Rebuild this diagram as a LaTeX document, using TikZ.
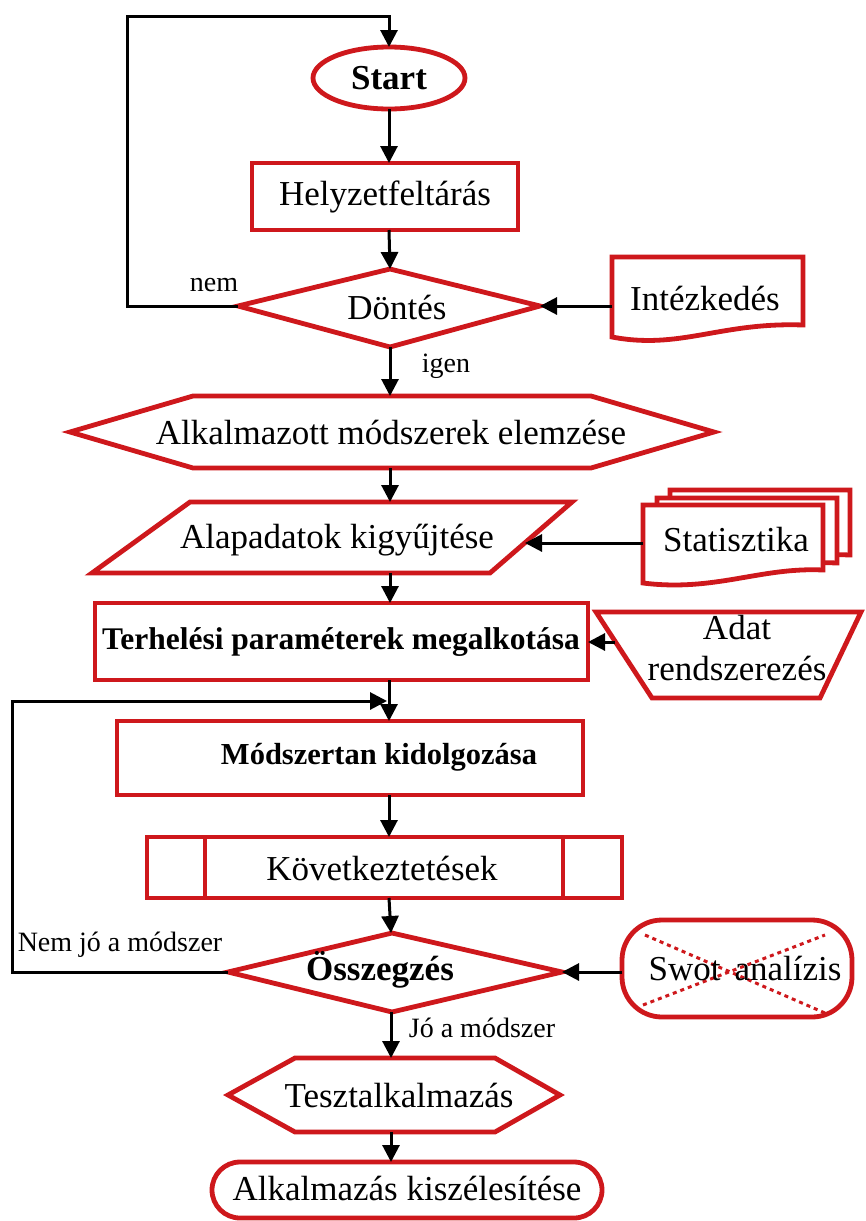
\documentclass[tikz,border=0pt]{standalone}
\usepackage{fontspec}
\setmainfont{Liberation Serif}
\usetikzlibrary{arrows.meta}
\definecolor{boxred}{RGB}{206,24,28}
\begin{document}
\begin{tikzpicture}[x=1pt,y=-1pt,
  box/.style={draw=boxred,line width=4.8pt,line join=miter,fill=white},
  flow/.style={draw=black,line width=3pt,-{Triangle[length=17pt,width=17pt]}},
  txt/.style={font=\fontsize{35}{39}\selectfont,inner sep=0pt},
  btxt/.style={font=\fontsize{35}{39}\selectfont\bfseries,inner sep=0pt},
  mtxt/.style={font=\fontsize{31.5}{35}\selectfont\bfseries,inner sep=0pt},
  stxt/.style={font=\fontsize{30.5}{34}\selectfont\bfseries,inner sep=0pt},
  note/.style={font=\fontsize{28}{32}\selectfont,inner sep=0pt},
  xline/.style={draw=boxred,line width=3pt,dash pattern=on 4pt off 4pt}]
\useasboundingbox[fill=white] (0,0) rectangle (865,1221);

% ---- shapes ----
% Start terminal
\draw[box] (389,78) ellipse [x radius=76, y radius=31];
% Helyzetfeltárás
\draw[box] (252,163) rectangle (518,230);
% Döntés decision
\draw[box] (238,306) -- (390,269) -- (540,306) -- (390,347) -- cycle;
% Intézkedés document
\draw[box] (612,257) -- (803,257) -- (803,325)
  .. controls (720,322) and (680,350) .. (612,337) -- cycle;
% Alkalmazott módszerek elemzése (preparation)
\draw[box] (70,432) -- (193,396) -- (591,396) -- (714,432) -- (591,468) -- (193,468) -- cycle;
% Alapadatok kigyűjtése (data)
\draw[box] (190,502) -- (572,502) -- (490,573) -- (92,573) -- cycle;
% Statisztika multi-document
\foreach \dx/\dy in {27/-15,14/-7,0/0}{
  \draw[box] (643+\dx,505+\dy) -- (823+\dx,505+\dy) -- (823+\dx,570+\dy)
    .. controls (760+\dx,567+\dy) and (715+\dx,592+\dy) .. (643+\dx,583+\dy) -- cycle;
}
% Terhelési paraméterek megalkotása
\draw[box] (95,603) rectangle (588,680);
% Adat rendszerezés (manual operation)
\draw[box] (596,612) -- (861,612) -- (820,698) -- (652,698) -- cycle;
% Módszertan kidolgozása
\draw[box] (117,721) rectangle (583,795);
% Következtetések (predefined process)
\draw[box] (147,837) rectangle (622,898);
\draw[box] (205,837) -- (205,898);
\draw[box] (563,837) -- (563,898);
% Összegzés decision
\draw[box] (228,972) -- (392,933) -- (562,972) -- (392,1012) -- cycle;
% Swot analízis terminal with dotted cross
\draw[box,rounded corners=40pt] (622,920) rectangle (852,1017);
\draw[xline] (645,935) -- (825,1013);
\draw[xline] (643,1005) -- (825,935);
% Tesztalkalmazás (preparation)
\draw[box] (228,1095) -- (295,1058) -- (495,1058) -- (560,1095) -- (495,1132) -- (295,1132) -- cycle;
% Alkalmazás kiszélesítése terminal
\draw[box,rounded corners=28pt] (212,1162) rectangle (602,1218);

% ---- texts ----
\node[btxt] (start) at (389,78) {Start};
\node[txt] (helyzet) at (385,197) {Helyzetfeltárás};
\node[txt] (dontes) at (397,307) {Döntés};
\node[txt] (intezk) at (705,298) {Intézkedés};
\node[txt] (alkalm) at (391,432) {Alkalmazott módszerek elemzése};
\node[txt] (alapad) at (337,540) {Alapadatok kigyűjtése};
\node[txt] (statiszt) at (736,540) {Statisztika};
\node[mtxt] (terhel) at (341,642) {Terhelési paraméterek megalkotása};
\node[txt] (adat) at (737,628) {Adat};
\node[txt] (rendsz) at (737,668) {rendszerezés};
\node[stxt] (modsz) at (379,757) {Módszertan kidolgozása};
\node[txt] (kovetk) at (382,868) {Következtetések};
\node[btxt] (osszeg) at (380,970) {Összegzés};
\node[txt] (swot) at (745,968) {Swot\hspace{14pt}analízis};
\node[txt] (teszt) at (399,1095) {Tesztalkalmazás};
\node[txt] (kiszel) at (407,1188) {Alkalmazás kiszélesítése};
\node[note] (nem) at (214,285) {nem};
\node[note] (igen) at (446,366) {igen};
\node[note] (nemjo) at (120,945) {Nem jó a módszer};
\node[note] (jo) at (482,1028) {Jó a módszer};

% ---- connection points ----
\coordinate (startN) at (389,47);
\coordinate (startS) at (389,109);
\coordinate (helyN) at (389,163);
\coordinate (helyS) at (389,230);
\coordinate (dontN) at (390,269);
\coordinate (dontS) at (390,347);
\coordinate (dontW) at (238,306);
\coordinate (dontE) at (540,306);
\coordinate (intW) at (612,306);
\coordinate (alkN) at (390,396);
\coordinate (alkS) at (390,468);
\coordinate (alapN) at (390,502);
\coordinate (alapS) at (390,573);
\coordinate (alapE) at (525,543);
\coordinate (statW) at (643,543);
\coordinate (terhN) at (390,603);
\coordinate (terhS) at (389,680);
\coordinate (terhE) at (588,642);
\coordinate (adatW) at (615,642);
\coordinate (modN) at (389,721);
\coordinate (modS) at (389,795);
\coordinate (kovN) at (389,837);
\coordinate (kovS) at (389,898);
\coordinate (osszN) at (391,933);
\coordinate (osszS) at (391,1012);
\coordinate (osszW) at (228,972);
\coordinate (osszE) at (562,972);
\coordinate (swotW) at (622,972);
\coordinate (tesztN) at (391,1058);
\coordinate (tesztS) at (391,1132);
\coordinate (kiszN) at (391,1162);
% loop bends
\coordinate (topA) at (127,306);
\coordinate (topB) at (127,16);
\coordinate (topC) at (389,16);
\coordinate (leftA) at (12,972);
\coordinate (leftB) at (12,701);
\coordinate (leftC) at (387,701);

% ---- connectors ----
\draw[flow] (dontW) -- (topA) -- (topB) -- (topC) -- (startN);
\draw[flow] (startS) -- (helyN);
\draw[flow] (helyS) -- (dontN);
\draw[flow] (intW) -- (dontE);
\draw[flow] (dontS) -- (alkN);
\draw[flow] (alkS) -- (alapN);
\draw[flow] (statW) -- (alapE);
\draw[flow] (alapS) -- (terhN);
\draw[flow] (adatW) -- (terhE);
\draw[flow] (terhS) -- (modN);
\draw[flow] (osszW) -- (leftA) -- (leftB) -- (leftC);
\draw[flow] (modS) -- (kovN);
\draw[flow] (kovS) -- (osszN);
\draw[flow] (swotW) -- (osszE);
\draw[flow] (osszS) -- (tesztN);
\draw[flow] (tesztS) -- (kiszN);
\end{tikzpicture}
\end{document}
